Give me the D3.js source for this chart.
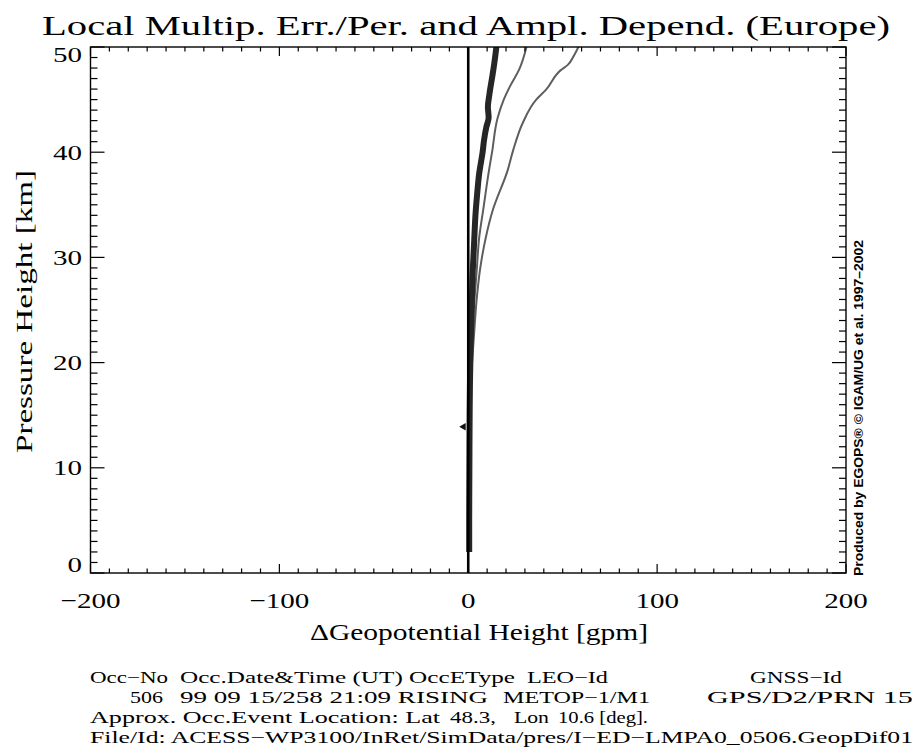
<!DOCTYPE html>
<html>
<head>
<meta charset="utf-8">
<script src="https://cdn.jsdelivr.net/npm/d3@7"></script>
<style>
  html, body { margin: 0; padding: 0; background: #fff; }
  svg { display: block; }
  .serif { font-family: "Liberation Serif", "DejaVu Serif", serif; fill: #000; }
</style>
</head>
<body>
<svg id="chart" width="920" height="756"></svg>
<script>
// Geopotential height difference profiles (gpm) versus pressure height (km)
const thickHeights = [2, 5, 10, 14, 18, 20, 22, 24, 25.7, 28.8, 31, 34.5, 36, 38, 40, 41.2, 42.4, 43.3, 44.3, 45.5, 47.5, 49, 50.5];
const thickValues  = [0.5, 0.5, 0.6, 0.7, 0.9, 1.1, 1.3, 1.6, 1.9, 2.4, 3.0, 4.0, 4.7, 5.8, 7.6, 8.4, 9.6, 10.8, 10.4, 11.2, 13.0, 14.2, 15.2];

const midHeights = [14, 18, 20, 22, 25.7, 28.8, 31.9, 34.5, 38.3, 40, 43.3, 45.0, 46.4, 47.8, 50.5];
const midValues  = [0.5, 1.0, 1.5, 2.2, 3.2, 4.5, 5.8, 7.9, 11.0, 12.6, 15.6, 18.8, 22.5, 26.8, 31.5];

const wideHeights = [14, 18, 20, 22.5, 25.7, 28.8, 31.9, 34.5, 38.3, 40.2, 42.8, 45.0, 45.9, 47.8, 48.3, 49.2, 50.5];
const wideValues  = [0.6, 1.2, 2.0, 3.0, 4.3, 6.2, 9.3, 13.0, 20.9, 23.8, 28.9, 36.0, 41.0, 49.0, 52.7, 56.0, 59.6];

// Profile start marker
const markerHeights = [13.9];
const markerValues  = [-2.5];

const xTicks = [-200, -100, 0, 100, 200];
const yTicks = [0, 10, 20, 30, 40, 50];
const xTickLabels = ["\u2212200", "\u2212100", "0", "100", "200"];

const titleText = "Local Multip. Err./Per. and Ampl. Depend. (Europe)";
const xLabel = "\u0394Geopotential Height [gpm]";
const yLabel = "Pressure Height [km]";
const creditText = "Produced by EGOPS\u00AE \u00A9 IGAM/UG et al. 1997\u20132002";

const svg = d3.select("#chart");
const plotLeft = 90.5, plotRight = 846, plotTop = 47, plotBottom = 573;

const x = d3.scaleLinear().domain([-200, 200]).range([plotLeft, plotRight]);
const y = d3.scaleLinear().domain([0, 50]).range([plotBottom, plotTop]);

// Clip
svg.append("clipPath").attr("id", "plotclip")
  .append("rect").attr("x", plotLeft).attr("y", plotTop)
  .attr("width", plotRight - plotLeft).attr("height", plotBottom - plotTop);

const plot = svg.append("g").attr("clip-path", "url(#plotclip)");

const line = d3.line().x(d => x(d[0])).y(d => y(d[1])).curve(d3.curveMonotoneY);

function profile(vals, hts) { return vals.map((v, i) => [v, hts[i]]); }

plot.append("path").datum(profile(wideValues, wideHeights))
  .attr("d", line).attr("fill", "none").attr("stroke", "#5e5e5e").attr("stroke-width", 2);
plot.append("path").datum(profile(midValues, midHeights))
  .attr("d", line).attr("fill", "none").attr("stroke", "#5e5e5e").attr("stroke-width", 2);
plot.append("path").datum(profile(thickValues, thickHeights))
  .attr("d", line).attr("fill", "none").attr("stroke", "#262626").attr("stroke-width", 6)
  .attr("stroke-linejoin", "round");

// Zero reference line
plot.append("line")
  .attr("x1", x(0)).attr("x2", x(0)).attr("y1", y(0)).attr("y2", y(50))
  .attr("stroke", "#000").attr("stroke-width", 2.6);

// Start marker
plot.selectAll("path.marker").data(profile(markerValues, markerHeights)).enter()
  .append("path").attr("class", "marker")
  .attr("transform", d => `translate(${x(d[0])},${y(d[1])}) rotate(-90)`)
  .attr("d", d3.symbol().type(d3.symbolTriangle).size(24))
  .attr("fill", "#111");

// Frame
svg.append("rect").attr("x", plotLeft).attr("y", plotTop)
  .attr("width", plotRight - plotLeft).attr("height", plotBottom - plotTop)
  .attr("fill", "none").attr("stroke", "#000").attr("stroke-width", 1.4);

// Ticks (inward on all sides)
const axisG = svg.append("g").attr("stroke", "#000").attr("stroke-width", 1.2);
const xMinor = d3.range(-200, 201, 10);
xMinor.forEach(v => {
  const major = v % 100 === 0;
  const len = major ? 9 : 4.5;
  axisG.append("line").attr("x1", x(v)).attr("x2", x(v)).attr("y1", plotBottom).attr("y2", plotBottom - len);
  axisG.append("line").attr("x1", x(v)).attr("x2", x(v)).attr("y1", plotTop).attr("y2", plotTop + len);
});
const yMinor = d3.range(0, 51, 1);
yMinor.forEach(v => {
  const major = v % 10 === 0;
  const len = major ? 14 : 7;
  axisG.append("line").attr("x1", plotLeft).attr("x2", plotLeft + len).attr("y1", y(v)).attr("y2", y(v));
  axisG.append("line").attr("x1", plotRight).attr("x2", plotRight - len).attr("y1", y(v)).attr("y2", y(v));
});

// Tick labels (wide digits, about 14.5 px each)
const digitW = 14.5;
svg.append("g").selectAll("text").data(xTicks).enter().append("text")
  .attr("class", "serif")
  .attr("x", d => x(d)).attr("y", 608)
  .attr("text-anchor", "middle").attr("font-size", 22)
  .attr("textLength", (d, i) => xTickLabels[i].length * digitW + (d < 0 ? 2 : 0))
  .attr("lengthAdjust", "spacingAndGlyphs")
  .text((d, i) => xTickLabels[i]);

// End labels are kept inside the axis span
const yLabelShift = v => v === 0 ? -1 : (v === 50 ? 15 : 7.5);
svg.append("g").selectAll("text").data(yTicks).enter().append("text")
  .attr("class", "serif")
  .attr("x", 82).attr("y", d => y(d) + yLabelShift(d))
  .attr("text-anchor", "end").attr("font-size", 22)
  .attr("textLength", d => String(d).length * digitW)
  .attr("lengthAdjust", "spacingAndGlyphs")
  .text(d => d);

// Title
svg.append("text").attr("class", "serif")
  .attr("x", 42).attr("y", 35).attr("font-size", 27)
  .attr("textLength", 848).attr("lengthAdjust", "spacingAndGlyphs")
  .text(titleText);

// Axis labels
svg.append("text").attr("class", "serif")
  .attr("x", 310).attr("y", 640).attr("font-size", 24)
  .attr("textLength", 338).attr("lengthAdjust", "spacingAndGlyphs")
  .text(xLabel);

svg.append("text").attr("class", "serif")
  .attr("transform", "translate(32,453) rotate(-90)")
  .attr("font-size", 24)
  .attr("textLength", 283).attr("lengthAdjust", "spacingAndGlyphs")
  .text(yLabel);

// Credit line along right edge
svg.append("text")
  .attr("transform", "translate(863,576) rotate(-90)")
  .attr("font-family", "Liberation Sans, Arial, sans-serif")
  .attr("font-weight", "bold").attr("font-size", 12.5)
  .attr("textLength", 336).attr("lengthAdjust", "spacingAndGlyphs")
  .attr("fill", "#000")
  .text(creditText);

// Occultation info block
const infoSegments = [
  [90, 683, 78, "Occ\u2212No"],
  [180, 683, 335, "Occ.Date&Time (UT) OccEType"],
  [527, 683, 81, "LEO\u2212Id"],
  [750, 683, 92, "GNSS\u2212Id"],
  [130, 703, 33, "506"],
  [180, 703, 308, "99 09 15/258 21:09 RISING"],
  [503, 703, 147, "METOP\u22121/M1"],
  [707, 703, 206, "GPS/D2/PRN 15"],
  [90, 723, 350, "Approx. Occ.Event Location: Lat"],
  [450, 723, 46, "48.3,"],
  [514, 723, 35, "Lon"],
  [558, 723, 90, "10.6 [deg]."],
  [90, 743, 823, "File/Id: ACESS\u2212WP3100/InRet/SimData/pres/I\u2212ED\u2212LMPA0_0506.GeopDif01"]
];
svg.append("g").selectAll("text").data(infoSegments).enter().append("text")
  .attr("class", "serif")
  .attr("x", d => d[0]).attr("y", d => d[1])
  .attr("font-size", 17.5)
  .attr("textLength", d => d[2]).attr("lengthAdjust", "spacingAndGlyphs")
  .text(d => d[3]);
</script>
</body>
</html>
